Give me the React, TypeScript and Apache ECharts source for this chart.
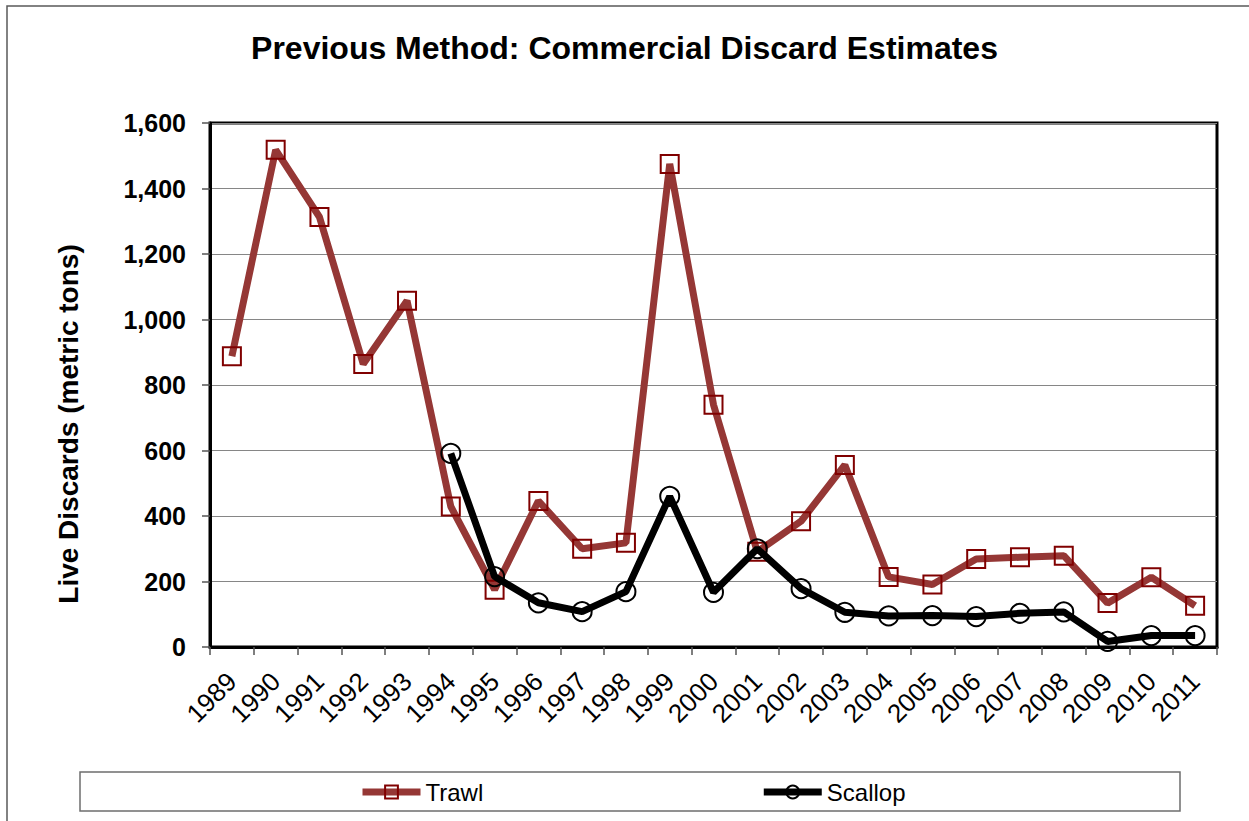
import React, { useEffect, useRef } from "react";
import * as echarts from "echarts";

const years = ["1989","1990","1991","1992","1993","1994","1995","1996","1997","1998","1999","2000","2001","2002","2003","2004","2005","2006","2007","2008","2009","2010","2011"];
const trawl = [888, 1518, 1313, 864, 1057, 429, 175, 446, 300, 318, 1475, 740, 291, 384, 556, 214, 191, 269, 274, 279, 134, 213, 126];
const scallop = [null, null, null, null, null, 591, 215, 135, 108, 169, 460, 167, 300, 178, 106, 95, 96, 93, 103, 107, 17, 35, 35];
const yTicks = { min: 0, max: 1600, interval: 200 };
const titleText = "Previous Method: Commercial Discard Estimates";
const yName = "Live Discards (metric tons)";

const FONT = "Liberation Sans, Arial, sans-serif";

export default function App() {
  const ref = useRef<HTMLDivElement>(null);
  useEffect(() => {
    const chart = echarts.init(ref.current!, null, { renderer: "svg" });
    chart.setOption({
      animation: false,
      backgroundColor: "#ffffff",
      textStyle: { fontFamily: FONT },
      title: {
        text: titleText,
        left: "center",
        top: 27,
        textStyle: { fontFamily: FONT, fontSize: 32, fontWeight: "bold", color: "#000" },
      },
      graphic: [
        {
          type: "rect",
          shape: { x: 7, y: 6, width: 1260, height: 830 },
          style: { fill: "none", stroke: "#595959", lineWidth: 1.5 },
          silent: true,
          z: -10,
        },
        {
          type: "rect",
          shape: { x: 80, y: 772, width: 1100, height: 39 },
          style: { fill: "none", stroke: "#6e6e6e", lineWidth: 1.5 },
          silent: true,
          z: -5,
        },
        {
          type: "text",
          x: 68,
          y: 424,
          rotation: Math.PI / 2,
          style: {
            text: yName,
            fontFamily: FONT,
            fontSize: 28,
            fontWeight: "bold",
            fill: "#000",
            align: "center",
            verticalAlign: "middle",
          },
          silent: true,
        },
      ],
      legend: {
        left: 354,
        top: 775,
        itemWidth: 58,
        itemHeight: 16,
        itemGap: 277,
        lineStyle: { width: 7 },
        textStyle: { fontFamily: FONT, fontSize: 24, color: "#000" },
        data: ["Trawl", "Scallop"],
      },
      grid: {
        left: 210,
        right: 32,
        top: 123,
        bottom: 174,
        show: true,
        borderColor: "#000",
        borderWidth: 3,
        backgroundColor: "transparent",
      },
      xAxis: {
        type: "category",
        data: years,
        boundaryGap: true,
        axisLine: { lineStyle: { color: "#000", width: 3 } },
        axisTick: { show: true, length: 8, lineStyle: { color: "#555", width: 1.5 } },
        axisLabel: {
          rotate: 45,
          interval: 0,
          margin: 30,
          fontFamily: FONT,
          fontSize: 26,
          color: "#000",
        },
      },
      yAxis: {
        type: "value",
        min: yTicks.min,
        max: yTicks.max,
        interval: yTicks.interval,
        axisLine: { show: true, lineStyle: { color: "#000", width: 3 } },
        axisTick: { show: true, length: 8, lineStyle: { color: "#555", width: 1.5 } },
        splitLine: { show: true, lineStyle: { color: "#868686", width: 1.2 } },
        axisLabel: {
          margin: 24,
          fontFamily: FONT,
          fontSize: 25,
          fontWeight: "bold",
          color: "#000",
          formatter: (v: number) => v.toLocaleString("en-US"),
        },
      },
      series: [
        {
          name: "Trawl",
          type: "line",
          data: trawl,
          symbol: "rect",
          symbolSize: 18,
          lineStyle: { color: "#953735", width: 7 },
          itemStyle: { color: "rgba(255,255,255,0)", borderColor: "#800000", borderWidth: 2 },
          z: 2,
        },
        {
          name: "Scallop",
          type: "line",
          data: scallop,
          symbol: "circle",
          symbolSize: 19,
          connectNulls: false,
          lineStyle: { color: "#000000", width: 7 },
          itemStyle: { color: "rgba(255,255,255,0)", borderColor: "#000000", borderWidth: 2 },
          z: 3,
        },
      ],
    });
    return () => chart.dispose();
  }, []);
  return (
    <div
      ref={ref}
      style={{ position: "fixed", left: 0, top: 0, width: 1249, height: 821 }}
    />
  );
}
